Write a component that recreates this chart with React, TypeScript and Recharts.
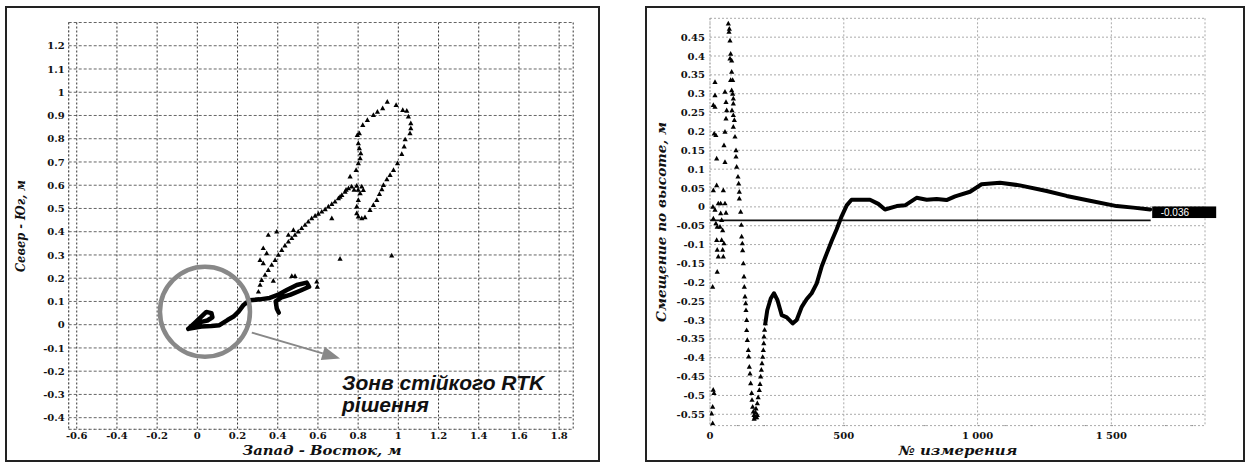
import React from "react";
import { ScatterChart, Scatter, XAxis, YAxis, CartesianGrid, ReferenceLine, ReferenceDot } from "recharts";

// ---- left panel: plan position (East-West vs North-South), metres ----
const planXTicks = [-0.6, -0.4, -0.2, 0, 0.2, 0.4, 0.6, 0.8, 1, 1.2, 1.4, 1.6, 1.8];
const planYTicks = [-0.4, -0.3, -0.2, -0.1, 0, 0.1, 0.2, 0.3, 0.4, 0.5, 0.6, 0.7, 0.8, 0.9, 1, 1.1, 1.2];

// thick continuous track (fixed RTK solution)
const planSolidTrack = [
  [-0.045, -0.018], [-0.01, 0.01], [0.02, 0.035], [0.045, 0.055], [0.07, 0.05], [0.075, 0.032],
  [0.05, 0.018], [0.02, 0.012], [-0.02, -0.008], [-0.045, -0.018], [0.02, -0.008], [0.07, -0.006],
  [0.11, -0.002], [0.15, 0.02], [0.18, 0.035], [0.205, 0.056], [0.23, 0.085], [0.26, 0.105],
  [0.31, 0.109], [0.36, 0.115], [0.4, 0.128], [0.445, 0.149], [0.495, 0.171], [0.544, 0.181],
  [0.556, 0.163], [0.511, 0.146], [0.461, 0.128], [0.42, 0.118], [0.39, 0.1], [0.395, 0.07], [0.405, 0.052],
];

// dense triangle markers (float solution)
const planDottedTrack = [
  [0.304, 0.142], [0.312, 0.171], [0.32, 0.192], [0.337, 0.214], [0.353, 0.235], [0.37, 0.257],
  [0.387, 0.278], [0.403, 0.3], [0.42, 0.321], [0.436, 0.34], [0.453, 0.357], [0.47, 0.372],
  [0.486, 0.386], [0.502, 0.4], [0.519, 0.415], [0.536, 0.429], [0.552, 0.443], [0.569, 0.458],
  [0.586, 0.468], [0.602, 0.477], [0.619, 0.486], [0.636, 0.496], [0.652, 0.508], [0.669, 0.519],
  [0.685, 0.529], [0.702, 0.544], [0.719, 0.558], [0.735, 0.572], [0.752, 0.587], [0.768, 0.594],
  [0.793, 0.597], [0.818, 0.594], [0.826, 0.579], [0.81, 0.565], [0.801, 0.536], [0.793, 0.508],
  [0.793, 0.479], [0.801, 0.465], [0.818, 0.458], [0.834, 0.462], [0.859, 0.493], [0.876, 0.515],
  [0.893, 0.536], [0.906, 0.562], [0.918, 0.582], [0.926, 0.601], [0.943, 0.625], [0.959, 0.644],
  [0.976, 0.665], [0.996, 0.694], [1.017, 0.734], [1.029, 0.766], [1.034, 0.797], [1.058, 0.823],
  [1.062, 0.845], [1.062, 0.866], [1.05, 0.895], [1.042, 0.92], [1.022, 0.923], [0.989, 0.945],
  [0.945, 0.959], [0.922, 0.931], [0.896, 0.916], [0.876, 0.902], [0.846, 0.88], [0.823, 0.859],
  [0.806, 0.823], [0.796, 0.816], [0.801, 0.78], [0.806, 0.759], [0.813, 0.737], [0.81, 0.716],
  [0.801, 0.694], [0.79, 0.665], [0.76, 0.637], [0.74, 0.58], [0.78, 0.58], [0.8, 0.58], [0.71, 0.55],
];

const planStrays = [
  [0.353, 0.386], [0.395, 0.4], [0.453, 0.386], [0.478, 0.407], [0.328, 0.329], [0.345, 0.307],
  [0.312, 0.278], [0.328, 0.264], [0.378, 0.189], [0.47, 0.209], [0.486, 0.209], [0.594, 0.185],
  [0.597, 0.163], [0.669, 0.458], [0.71, 0.283], [0.967, 0.297],
];

const stableZone = { x: 0.038, y: 0.056 };
const arrowFrom = { x: 0.271, y: -0.034 };
const arrowTo = { x: 0.71, y: -0.145 };

// ---- right panel: height offset vs measurement number ----
const heightXTicks = [0, 500, 1000, 1500];
const heightYTicks = [-0.55, -0.5, -0.45, -0.4, -0.35, -0.3, -0.25, -0.2, -0.15, -0.1, -0.05, 0, 0.05, 0.1, 0.15, 0.2, 0.25, 0.3, 0.35, 0.4, 0.45];

const heightNoise = [
  [18.7, 0.331], [18.7, 0.296], [12.5, 0.27], [18.7, 0.265], [15.6, 0.194], [21.8, 0.19], [24.9, 0.128],
  [12.5, 0.044], [24.9, 0.057], [10.9, 0.0], [31, 0.009], [18.7, -0.008], [12.5, -0.031], [22, -0.044],
  [27, -0.053], [25, -0.088], [27, -0.114], [31, -0.132], [27, -0.172], [10, -0.212], [12, -0.485],
  [15, -0.494], [10, -0.53], [6, -0.548], [10, -0.574],
  [56, 0.305], [59.8, 0.278], [62.3, 0.256], [59.8, 0.234], [56, 0.199], [52.3, 0.163], [56, 0.119],
  [49.8, 0.044], [39.9, 0.009], [56, 0.009], [39.9, -0.017], [59.8, -0.016], [43.6, -0.035],
  [37.4, -0.053], [47.4, -0.062], [43.6, -0.088], [52.3, -0.097], [47.4, -0.114], [49.8, -0.132],
];

const heightDrop = [
  [68.5, 0.486], [72.2, 0.472], [71, 0.464], [74.7, 0.441], [77.2, 0.406], [81, 0.388], [74.7, 0.393],
  [81, 0.358], [84.7, 0.336], [77.2, 0.336], [81, 0.309], [84.7, 0.3], [87.2, 0.287], [87.2, 0.274],
  [82.2, 0.256], [87.2, 0.243], [91, 0.23], [87.2, 0.212], [93.4, 0.186], [97.2, 0.15], [97.2, 0.133],
  [99.6, 0.106], [104.6, 0.08], [107.1, 0.062], [109.6, 0.04], [109.6, 0.022], [114.6, -0.013],
  [117.1, -0.048], [118.3, -0.079], [120.8, -0.097], [122, -0.115], [124.6, -0.15], [127, -0.185],
  [128.3, -0.212], [130.8, -0.238], [133.3, -0.256], [134.5, -0.274], [137, -0.3], [137, -0.327],
  [139.5, -0.353], [143.3, -0.38], [144.5, -0.397], [147, -0.424], [149.5, -0.442], [152, -0.468],
  [155.7, -0.494], [157, -0.512], [159.4, -0.53], [162, -0.543], [164.4, -0.552], [168.2, -0.558],
  [174.4, -0.558], [176.9, -0.552],
];

const heightClimb = [
  [165, -0.562], [168.2, -0.556], [170, -0.545], [172, -0.535], [176.9, -0.521], [180, -0.505],
  [184.4, -0.486], [187, -0.47], [189.4, -0.45], [192, -0.432], [194.3, -0.415], [197, -0.398],
  [199.3, -0.38], [201, -0.362], [201.8, -0.344], [204, -0.326], [206.8, -0.309],
];

const heightTrend = [
  [206.8, -0.309], [214, -0.274], [227, -0.243], [239, -0.229], [252, -0.247], [268, -0.287],
  [287, -0.293], [309, -0.309], [324, -0.3], [343, -0.265], [361, -0.245], [380, -0.229],
  [399, -0.203], [417, -0.159], [436, -0.124], [455, -0.09], [473, -0.06], [492, -0.025],
  [511, 0.004], [529, 0.019], [598, 0.019], [629, 0.008], [654, -0.007], [698, 0.002],
  [729, 0.004], [772, 0.024], [810, 0.019], [847, 0.021], [884, 0.018], [916, 0.028],
  [972, 0.04], [1015, 0.06], [1084, 0.064], [1158, 0.057], [1258, 0.042], [1333, 0.029],
  [1420, 0.016], [1520, 0.002], [1582, -0.002], [1645, -0.007],
];

const meanOffset = -0.036;
const meanLineEnd = 1647;
const meanLabel = "-0.036";

const pts = (a: number[][]) => a.map(([x, y]) => ({ x, y }));
const fmt = (v: number) => String(Number(v.toFixed(2)));
const fmtCount = (v: number) =>
  v >= 1000 ? `${Math.floor(v / 1000)} ${String(v % 1000).padStart(3, "0")}` : String(v);

const labelFont = { fontFamily: "DejaVu Serif", fontWeight: 700, fontStyle: "italic", fontSize: 13, fill: "#111" };

// tick renderers so the serif bold font is really used
const xTick = (format: (v: number) => string) => (props: any) => {
  const { x, y, payload } = props;
  return (
    <text x={x} y={y} dy="0.71em" textAnchor="middle" fontFamily="DejaVu Serif" fontWeight={700} fontSize={10} fill="#111">
      {format(payload.value)}
    </text>
  );
};
const yTick = (format: (v: number) => string) => (props: any) => {
  const { x, y, payload } = props;
  return (
    <text x={x} y={y} dy="0.36em" textAnchor="end" fontFamily="DejaVu Serif" fontWeight={700} fontSize={10} fill="#111">
      {format(payload.value)}
    </text>
  );
};

const Tri = (props: any) => {
  const { cx, cy } = props;
  if (cx == null || cy == null) return <g />;
  return <path d={`M${cx},${cy - 2.8}L${cx + 2.6},${cy + 1.9}L${cx - 2.6},${cy + 1.9}Z`} fill="#000" />;
};
const NoDot = () => <g />;

const Arrow = (props: any) => {
  const { x1, y1, x2, y2 } = props;
  if ([x1, y1, x2, y2].some((v) => v == null)) return <g />;
  const a = Math.atan2(y2 - y1, x2 - x1);
  const L = 18, W = 7;
  const bx = x2 - L * Math.cos(a), by = y2 - L * Math.sin(a);
  const px = -Math.sin(a) * W, py = Math.cos(a) * W;
  return (
    <g>
      <line x1={x1} y1={y1} x2={bx} y2={by} stroke="#888" strokeWidth={2} />
      <path d={`M${x2},${y2}L${bx + px},${by + py}L${bx - px},${by - py}Z`} fill="#888" />
    </g>
  );
};

const MeanTag = (props: any) => {
  const { cx, cy } = props;
  if (cx == null || cy == null) return <g />;
  return (
    <g>
      <rect x={cx + 1.5} y={cy - 14} width={64} height={11.6} fill="#000" />
      <text x={cx + 10} y={cy - 4.6} fill="#fff" fontFamily="Liberation Sans" fontSize={10}>{meanLabel}</text>
    </g>
  );
};

function PlanChart() {
  return (
    <ScatterChart width={600} height={464} margin={{ top: 22.5, right: 26.8, bottom: 0, left: 0 }}>
      <CartesianGrid vertical={false} stroke="#666" strokeDasharray="3 2" />
      <CartesianGrid horizontal={false} stroke="#333" strokeDasharray="2 2" />
      <XAxis type="number" dataKey="x" domain={[-0.64, 1.87]} ticks={planXTicks} allowDataOverflow
        height={34.7} tickLine={false} tickSize={2} tickMargin={1} interval={0}
        axisLine={{ stroke: "#555", strokeDasharray: "1 4" }} tick={xTick(fmt)} />
      <YAxis type="number" dataKey="y" domain={[-0.45, 1.3]} ticks={planYTicks} allowDataOverflow
        width={68.7} tickLine={false} tickSize={2} tickMargin={2} interval={0}
        axisLine={{ stroke: "#555", strokeDasharray: "1 3" }} tick={yTick(fmt)} />
      <Scatter data={pts(planSolidTrack)} shape={NoDot} isAnimationActive={false}
        line={{ stroke: "#000", strokeWidth: 4.5, strokeLinejoin: "round", strokeLinecap: "round" }} />
      <Scatter data={pts(planDottedTrack)} shape={Tri} isAnimationActive={false} />
      <Scatter data={pts(planStrays)} shape={Tri} isAnimationActive={false} />
      <ReferenceDot x={stableZone.x} y={stableZone.y} r={45} fill="none" stroke="#888" strokeWidth={4.5} />
      <ReferenceLine segment={[arrowFrom, arrowTo]} shape={Arrow} />
    </ScatterChart>
  );
}

function HeightChart() {
  return (
    <ScatterChart width={607} height={464} margin={{ top: 18.3, right: 42, bottom: 0, left: 0 }}>
      <CartesianGrid stroke="#aaa" strokeDasharray="2 2" />
      <XAxis type="number" dataKey="x" domain={[0, 1850]} ticks={heightXTicks} allowDataOverflow
        height={38.4} tickLine={false} tickSize={4} tickMargin={2} interval={0}
        axisLine={{ stroke: "#888", strokeDasharray: "1.5 25.26" }} tick={xTick(fmtCount)} />
      <YAxis type="number" dataKey="y" domain={[-0.58, 0.5]} ticks={heightYTicks} allowDataOverflow
        width={70} tickLine={false} tickSize={3} tickMargin={2} interval={0}
        axisLine={{ stroke: "#999", strokeDasharray: "1 2" }} tick={yTick(fmt)} />
      <ReferenceLine segment={[{ x: 0, y: meanOffset }, { x: meanLineEnd, y: meanOffset }]} stroke="#111" strokeWidth={1.8} />
      <Scatter data={pts(heightTrend)} shape={NoDot} isAnimationActive={false}
        line={{ stroke: "#000", strokeWidth: 4, strokeLinejoin: "round", strokeLinecap: "round" }} />
      <Scatter data={pts(heightNoise)} shape={Tri} isAnimationActive={false} />
      <Scatter data={pts(heightDrop)} shape={Tri} isAnimationActive={false} />
      <Scatter data={pts(heightClimb)} shape={Tri} isAnimationActive={false} />
      <ReferenceDot x={meanLineEnd} y={meanOffset} shape={MeanTag} />
    </ScatterChart>
  );
}

export default function App() {
  return (
    <div style={{ position: "absolute", left: 0, top: 0, width: 1247, height: 464, background: "#fff", overflow: "hidden" }}>
      <div style={{ position: "absolute", left: 5, top: 6, width: 595, height: 456, border: "2px solid #222", boxSizing: "border-box" }} />
      <div style={{ position: "absolute", left: 645, top: 6, width: 600, height: 456, border: "2px solid #222", boxSizing: "border-box" }} />
      <div style={{ position: "absolute", left: 0, top: 0 }}>
        <PlanChart />
      </div>
      <div style={{ position: "absolute", left: 640, top: 0 }}>
        <HeightChart />
      </div>
      <svg width={1247} height={464} style={{ position: "absolute", left: 0, top: 0, pointerEvents: "none" }}>
        <text x={322} y={455} textAnchor="middle" textLength={159} lengthAdjust="spacingAndGlyphs" {...labelFont}>Запад - Восток, м</text>
        <text x={20} y={226} transform="rotate(-90 20 226)" textAnchor="middle" dominantBaseline="central"
          textLength={92} lengthAdjust="spacingAndGlyphs" {...labelFont}>Север - Юг, м</text>
        <text x={958} y={455} textAnchor="middle" textLength={119} lengthAdjust="spacingAndGlyphs" {...labelFont}>№ измерения</text>
        <text x={661.5} y={222} transform="rotate(-90 661.5 222)" textAnchor="middle" dominantBaseline="central"
          textLength={200} lengthAdjust="spacingAndGlyphs" {...labelFont}>Смещение по высоте, м</text>
        <text fontFamily="Liberation Sans" fontWeight={700} fontStyle="italic" fontSize={21} fill="#111">
          <tspan x={342} y={390}>Зонв стійкого RTK</tspan>
          <tspan x={342} y={412}>рішення</tspan>
        </text>
      </svg>
    </div>
  );
}
